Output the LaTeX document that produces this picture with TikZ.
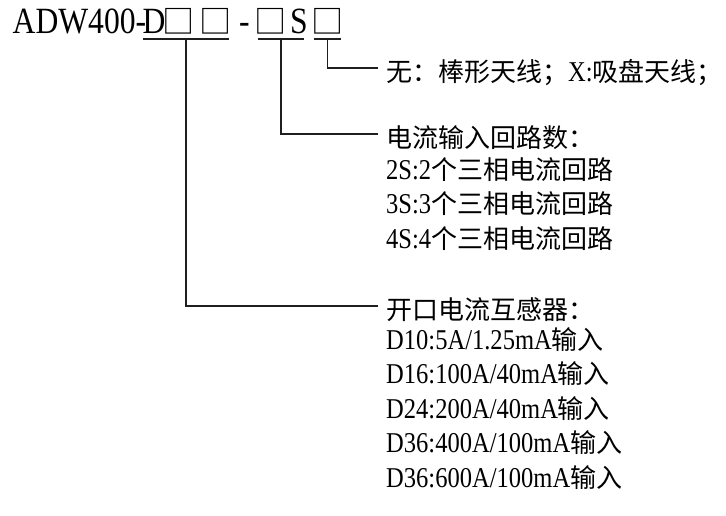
\documentclass[tikz,border=0pt]{standalone}
\usepackage{fontspec}
\setmainfont{Liberation Serif}[FakeStretch=0.855]
\newfontfamily\cjk[Scale=0.906]{Noto Sans CJK SC}
\usetikzlibrary{positioning}

\begin{document}
\begin{tikzpicture}[x=1pt,y=-1pt,
  code/.style={inner sep=0pt,anchor=base,font=\fontsize{37}{40}\selectfont},
  field/.style={code,font=\cjk\fontsize{35.5}{38}\selectfont,text height=25pt,text depth=0pt},
  item/.style={inner sep=0pt,anchor=base west,font=\fontsize{28.7}{34}\selectfont},
  head/.style={item,anchor=west,inner xsep=8pt,text height=27pt,text depth=0pt},
  link/.style={line width=1.2pt,black!88},
]
  \useasboundingbox (0,0) rectangle (726,516);

  % model code
  \node[code,anchor=base west] (model) at (12.5,34) {ADW400-};
  \node[code,anchor=base west] (dsym) at (142.5,34) {D};
  \node[field] (boxa) at (178.5,33.5) {□};
  \node[field] (boxb) at (216,33.5) {□};
  \node[code] (dash) at (244.5,34) {-};
  \node[field] (boxc) at (271,33.5) {□};
  \node[code] (ssym) at (299,34) {S};
  \node[field] (boxd) at (327.5,33.5) {□};

  % underlines under the fields
  \draw[link] (143,39) -- coordinate (fct) (229,39);
  \draw[link] (258,39) -- coordinate (floop) (304,39);
  \draw[link] (314,39) -- coordinate (fant) (341,39);

  % antenna
  \node[head] (ant) at (378,68) {{\cjk 无：棒形天线；}X:{\cjk 吸盘天线；}};

  % current loops
  \node[head] (loop) at (378,134) {{\cjk 电流输入回路数：}};
  \node[item] (loop2) at (386,180) {2S:2{\cjk 个三相电流回路}};
  \node[item] (loop3) at (386,214) {3S:3{\cjk 个三相电流回路}};
  \node[item] (loop4) at (386,248) {4S:4{\cjk 个三相电流回路}};

  % current transformers
  \node[head] (ct) at (378,306) {{\cjk 开口电流互感器：}};
  \node[item] (ct10) at (386,349) {D10:5A/1.25mA{\cjk 输入}};
  \node[item] (ct16) at (386,383) {D16:100A/40mA{\cjk 输入}};
  \node[item] (ct24) at (386,418) {D24:200A/40mA{\cjk 输入}};
  \node[item] (ct36a) at (386,452) {D36:400A/100mA{\cjk 输入}};
  \node[item] (ct36b) at (386,487) {D36:600A/100mA{\cjk 输入}};

  % leaders
  \draw[link] (fant) |- (ant.west);
  \draw[link] (floop) |- (loop.west);
  \draw[link] (fct) |- (ct.west);
\end{tikzpicture}
\end{document}
